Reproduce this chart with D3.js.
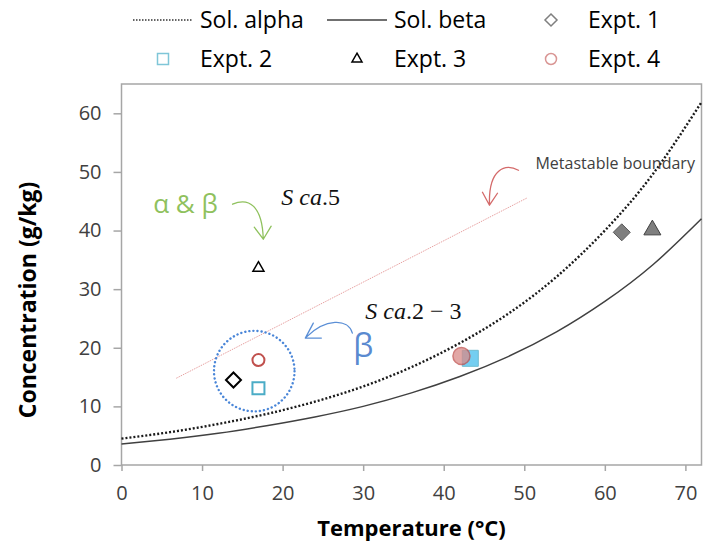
<!DOCTYPE html>
<html>
<head>
<meta charset="utf-8">
<script src="https://cdn.jsdelivr.net/npm/d3@7"></script>
<style>
  body { margin: 0; background: #fff; }
  svg { display: block; }
</style>
</head>
<body>
<svg id="chart" width="710" height="547"></svg>
<script>
// solubility curves, every 6 degC
const solTemps = [0, 6, 12, 18, 24, 30, 36, 42, 48, 54, 60, 66, 72];
const solAlpha = [4.5, 5.6, 7.0, 8.7, 10.8, 13.4, 16.7, 20.8, 25.8, 32.1, 40.0, 49.7, 61.9];
const solBeta  = [3.6, 4.4, 5.4, 6.7, 8.2, 10.0, 12.3, 15.1, 18.5, 22.7, 27.9, 34.2, 42.0];

// metastable boundary (two ends of the pink line)
const metaTemps = [6.8, 50.4];
const metaConc  = [14.8, 45.6];

// experiments: first point = hollow marker, second = filled marker
const expt1Temp = [13.9, 62.1], expt1Conc = [14.5, 39.7];
const expt2Temp = [17.0, 43.3], expt2Conc = [13.1, 18.2];
const expt3Temp = [17.0, 65.9], expt3Conc = [33.6, 40.1];
const expt4Temp = [17.0, 42.2], expt4Conc = [17.9, 18.6];

const xTicks = [0, 10, 20, 30, 40, 50, 60, 70];
const yTicks = [0, 10, 20, 30, 40, 50, 60];
const legendLabels = ["Sol. alpha", "Sol. beta", "Expt. 1", "Expt. 2", "Expt. 3", "Expt. 4"];

let margin = {top: 84, right: 8.5, bottom: 82, left: 121.5};
let W = 710, H = 547;
let svg = d3.select("#chart");
let font = "'Open Sans', 'Noto Sans', sans-serif";

let x = d3.scaleLinear([0, 72], [margin.left, W - margin.right]);
let y = d3.scaleLinear([0, 65], [H - margin.bottom, margin.top]);

// plot box
svg.append("rect")
  .attr("x", x(0)).attr("y", y(65))
  .attr("width", x(72) - x(0)).attr("height", y(0) - y(65))
  .attr("fill", "none").attr("stroke", "#a6a6a6").attr("stroke-width", 1.5);

// axes
let gx = svg.append("g")
  .attr("transform", `translate(0,${y(0)})`)
  .call(d3.axisBottom(x).tickValues(xTicks).tickSize(6).tickPadding(15));
let gy = svg.append("g")
  .attr("transform", `translate(${x(0)},0)`)
  .call(d3.axisLeft(y).tickValues(yTicks).tickSize(8).tickPadding(12));
[gx, gy].forEach(g => {
  g.select(".domain").remove();
  g.selectAll("line").attr("stroke", "#a6a6a6").attr("stroke-width", 1.5);
  g.selectAll("text").attr("font-family", font).attr("font-size", 20).attr("fill", "#404040");
});

svg.append("text")
  .attr("x", (x(0) + x(72)) / 2).attr("y", 536)
  .attr("text-anchor", "middle")
  .attr("font-family", font).attr("font-weight", "bold").attr("font-size", 22)
  .text("Temperature (°C)");
svg.append("text")
  .attr("transform", `translate(36,300) rotate(-90)`)
  .attr("text-anchor", "middle")
  .attr("font-family", font).attr("font-weight", "bold").attr("font-size", 23)
  .text("Concentration (g/kg)");

// curves
let line = d3.line().x(d => x(d[0])).y(d => y(d[1])).curve(d3.curveNatural);
svg.append("path")
  .attr("d", line(d3.zip(metaTemps, metaConc)))
  .attr("fill", "none").attr("stroke", "#e8a2a2").attr("stroke-width", 1)
  .attr("stroke-dasharray", "1.5,1");
svg.append("path")
  .attr("d", line(d3.zip(solTemps, solBeta)))
  .attr("fill", "none").attr("stroke", "#404040").attr("stroke-width", 1.5);
svg.append("path")
  .attr("d", line(d3.zip(solTemps, solAlpha)))
  .attr("fill", "none").attr("stroke", "#1a1a1a").attr("stroke-width", 2.4)
  .attr("stroke-dasharray", "2,2");

// marker helpers (sizes given as half widths / radius)
function mark(type, half){
  if(type == "diamond") return d3.symbol(d3.symbolDiamond2, (half / 0.62625) ** 2)();
  if(type == "square") return d3.symbol(d3.symbolSquare2, (half / 0.4431) ** 2)();
  if(type == "triangle") return d3.symbol(d3.symbolTriangle2, ((half * 2 / 1.732) / 0.6824) ** 2)();
  return d3.symbol(d3.symbolCircle, Math.PI * half * half)();
}

let series = [
  {t: expt1Temp, c: expt1Conc, type: "diamond",
   open: {half: 7.5, stroke: "#000", sw: 2, fill: "none"},
   full: {half: 8.5, stroke: "#595959", sw: 1, fill: "#7f7f7f", op: 1}},
  {t: expt2Temp, c: expt2Conc, type: "square",
   open: {half: 6, stroke: "#4bacc6", sw: 2, fill: "none"},
   full: {half: 8, stroke: "#4bacc6", sw: 1, fill: "#52c3ee", op: 0.8}},
  {t: expt3Temp, c: expt3Conc, type: "triangle",
   open: {half: 5.5, stroke: "#000", sw: 1.5, fill: "none"},
   full: {half: 8.5, stroke: "#404040", sw: 1, fill: "#7f7f7f", op: 1}},
  {t: expt4Temp, c: expt4Conc, type: "circle",
   open: {half: 6, stroke: "#c0504d", sw: 2, fill: "none"},
   full: {half: 8.5, stroke: "#c0504d", sw: 1.5, fill: "#d98a88", op: 0.75}}
];

series.forEach(s => {
  s.t.forEach((t, i) => {
    let st = i == 0 ? s.open : s.full;
    svg.append("path")
      .attr("d", mark(s.type, st.half))
      .attr("transform", `translate(${x(t)},${y(s.c[i])})`)
      .attr("fill", st.fill).attr("stroke", st.stroke).attr("stroke-width", st.sw)
      .attr("opacity", st.op || 1);
  });
});

// annotations (in data units)
function arrow(pts, head, color){
  let p = d3.path();
  p.moveTo(x(pts[0][0]), y(pts[0][1]));
  p.bezierCurveTo(x(pts[1][0]), y(pts[1][1]), x(pts[2][0]), y(pts[2][1]), x(pts[3][0]), y(pts[3][1]));
  p.moveTo(x(head[0][0]), y(head[0][1]));
  p.lineTo(x(head[1][0]), y(head[1][1]));
  p.lineTo(x(head[2][0]), y(head[2][1]));
  svg.append("path").attr("d", p.toString())
    .attr("fill", "none").attr("stroke", color).attr("stroke-width", 1.3)
    .attr("stroke-linecap", "round").attr("stroke-linejoin", "round");
}
arrow([[13.79, 44.49], [15.78, 45.68], [17.48, 44.32], [17.60, 38.52]],
      [[16.48, 40.57], [17.60, 38.52], [18.58, 40.74]], "#8fc15d");
arrow([[28.66, 22.50], [28.16, 25.06], [25.30, 25.06], [22.94, 21.82]],
      [[23.81, 24.20], [22.82, 21.65], [24.81, 21.65]], "#5b8fd6");
arrow([[49.28, 50.28], [47.66, 51.47], [45.55, 50.62], [45.68, 44.49]],
      [[44.81, 46.53], [45.68, 44.32], [46.67, 46.36]], "#d46a6a");

svg.append("circle")
  .attr("cx", x(16.48)).attr("cy", y(16.02)).attr("r", x(5) - x(0))
  .attr("fill", "none").attr("stroke", "#4a86d8").attr("stroke-width", 2.4)
  .attr("stroke-dasharray", "0.1,4").attr("stroke-linecap", "round");

svg.append("text")
  .attr("x", x(3.94)).attr("y", y(42.95))
  .attr("font-family", font).attr("font-size", 26).attr("fill", "#8fc15d")
  .text("α & β");
svg.append("text")
  .attr("x", x(28.78)).attr("y", y(18.41))
  .attr("font-family", font).attr("font-size", 32).attr("fill", "#5a8ad0")
  .text("β");
svg.append("text")
  .attr("x", x(51.39)).attr("y", y(50.45))
  .attr("font-family", font).attr("font-size", 16).attr("fill", "#404040")
  .text("Metastable boundary");

function mathText(tx, ty, tail){
  let t = svg.append("text")
    .attr("x", x(tx)).attr("y", y(ty))
    .attr("font-family", "'Liberation Serif', serif").attr("font-size", 24).attr("fill", "#111");
  t.append("tspan").attr("font-style", "italic").text("S ca");
  t.append("tspan").text(tail);
}
mathText(19.84, 44.32, ".5");
mathText(30.27, 24.88, ".2 − 3");

// legend
let legend = svg.append("g");
let colX = [133, 327, 521], rowY = [20, 59];
let keys = [
  {kind: "dot"}, {kind: "solid"},
  {kind: "diamond", stroke: "#7f7f7f", half: 6},
  {kind: "square", stroke: "#7fc6d8", half: 5.5},
  {kind: "triangle", stroke: "#000", half: 5},
  {kind: "circle", stroke: "#d99694", half: 5.5}
];
legendLabels.forEach((lab, i) => {
  let cx = colX[i % 3], cy = rowY[Math.floor(i / 3)];
  let k = keys[i];
  if(k.kind == "dot" || k.kind == "solid"){
    legend.append("line")
      .attr("x1", cx).attr("x2", cx + 60).attr("y1", cy).attr("y2", cy)
      .attr("stroke", k.kind == "dot" ? "#333" : "#404040")
      .attr("stroke-width", k.kind == "dot" ? 1.3 : 1.5)
      .attr("stroke-dasharray", k.kind == "dot" ? "1.5,1.5" : null);
  }else{
    legend.append("path")
      .attr("d", mark(k.kind, k.half))
      .attr("transform", `translate(${cx + 30},${cy})`)
      .attr("fill", "none").attr("stroke", k.stroke).attr("stroke-width", 1.5);
  }
  legend.append("text")
    .attr("x", cx + 67).attr("y", cy).attr("dy", "0.35em")
    .attr("font-family", font).attr("font-size", 23).attr("fill", "#000")
    .text(lab);
});
</script>
</body>
</html>
